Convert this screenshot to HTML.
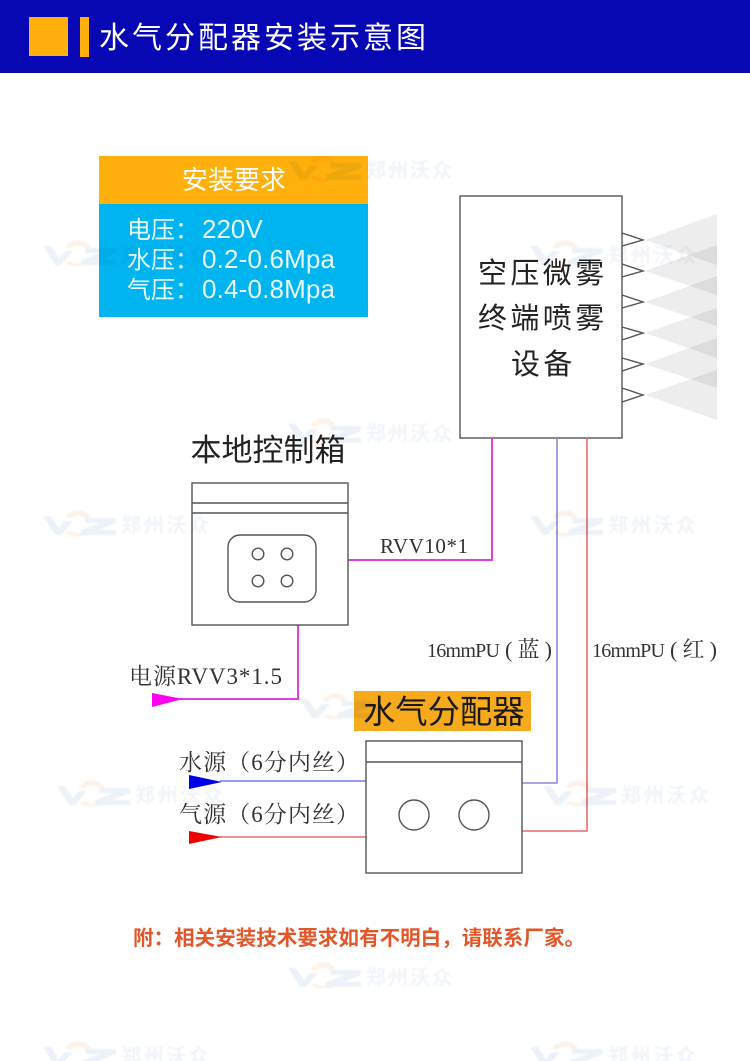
<!DOCTYPE html>
<html lang="zh">
<head>
<meta charset="utf-8">
<title>水气分配器安装示意图</title>
<style>
html,body{margin:0;padding:0;background:#fff;width:750px;height:1061px;overflow:hidden}
svg{display:block}
.s{font-family:"Liberation Sans","Noto Sans CJK SC",sans-serif}
.f{font-family:"Liberation Serif","Noto Serif CJK SC",serif;fill:#333}
.b{fill:none;stroke:#555;stroke-width:1.4}
.wm{font-family:"Liberation Sans","Noto Sans CJK SC",sans-serif;font-weight:700;font-size:20px;fill:#f0f4f9}
.wmg{mix-blend-mode:multiply;filter:blur(.8px)}
</style>
</head>
<body>
<svg width="750" height="1061" viewBox="0 0 750 1061" xmlns="http://www.w3.org/2000/svg">
<defs>
<g id="logo">
<path d="M0 -9 L8 -9 L16 3 L22 -4 L30 -4 L18 10 L12 10 Z" fill="#edf2f8"/>
<path d="M22 -8 A16 16 0 0 1 48 -8 L43 -6 A11 11 0 0 0 27 -6 Z" fill="#fdf2e9"/>
<path d="M27 6 A12 8 0 0 0 43 6 L49 8 A18 10 0 0 1 22 8 Z" fill="#fdf2e9"/>
<path d="M42 -7 L73 -7 L73 -2 L55 5 L73 5 L73 10 L38 10 L38 5 L57 -2 L42 -2 Z" fill="#edf2f8"/>
</g>
</defs>

<!-- header -->
<rect x="0" y="0" width="750" height="73" fill="#0707b4"/>
<rect x="29" y="17" width="39" height="39" fill="#ffb00c"/>
<rect x="80" y="17" width="9" height="40" fill="#ffb00c"/>
<text class="s" x="99" y="48" font-size="30" fill="#fff" letter-spacing="3">水气分配器安装示意图</text>

<!-- requirements -->
<rect x="99" y="156" width="269" height="48" fill="#ffb00c"/>
<rect x="99" y="204" width="269" height="113" fill="#00b4f0"/>
<text class="s" x="234" y="189" font-size="26" fill="#fff" text-anchor="middle">安装要求</text>
<g class="s" font-size="24" fill="#e8fbff">
<text x="127" y="238">电压：</text><text x="202" y="238" font-size="26">220V</text>
<text x="127" y="268">水压：</text><text x="202" y="268" font-size="26" textLength="133">0.2-0.6Mpa</text>
<text x="127" y="298">气压：</text><text x="202" y="298" font-size="26" textLength="133">0.4-0.8Mpa</text>
</g>

<!-- spray -->
<g fill="#000" fill-opacity="0.07">
<polygon points="645,240 717,214 717,265"/>
<polygon points="645,271 717,245 717,295"/>
<polygon points="645,302 717,276 717,326"/>
<polygon points="645,333 717,308 717,358"/>
<polygon points="645,364 717,338 717,388"/>
<polygon points="645,395 717,370 717,420"/>
</g>

<!-- terminal device -->
<rect class="b" x="460" y="196" width="162" height="242"/>
<g class="b" stroke-width="1.1">
<polyline points="622,233 643,240 622,246"/>
<polyline points="622,264 643,271 622,277"/>
<polyline points="622,295 643,302 622,308"/>
<polyline points="622,327 643,333 622,340"/>
<polyline points="622,358 643,364 622,371"/>
<polyline points="622,388 643,395 622,402"/>
</g>
<g class="s" font-size="29" fill="#222" letter-spacing="3.4">
<text x="478" y="283">空压微雾</text>
<text x="478" y="328">终端喷雾</text>
<text x="511" y="374">设备</text>
</g>

<!-- connectors -->
<polyline points="348,560 492,560 492,438" fill="none" stroke="#e23fe0" stroke-width="2"/>
<polyline points="298,625 298,699 180,699" fill="none" stroke="#e23fe0" stroke-width="2"/>
<polygon points="152,693 152,707 183,699" fill="#ff00f0"/>
<polyline points="557,438 557,783 522,783" fill="none" stroke="#8a8ae0" stroke-width="1.6"/>
<polyline points="587,438 587,831 522,831" fill="none" stroke="#e86a6a" stroke-width="1.6"/>
<line x1="220" y1="781" x2="366" y2="781" stroke="#7a7ae8" stroke-width="1.6"/>
<polygon points="189,775 189,789 222,782" fill="#0000e6"/>
<line x1="220" y1="837" x2="366" y2="837" stroke="#e86a6a" stroke-width="1.6"/>
<polygon points="189,831 189,844 222,837" fill="#f00000"/>

<!-- control box -->
<text class="s" x="268" y="461" font-size="31" fill="#222" text-anchor="middle">本地控制箱</text>
<rect class="b" x="192" y="483" width="156" height="142"/>
<line class="b" x1="192" y1="503" x2="348" y2="503"/>
<line class="b" x1="192" y1="513" x2="348" y2="513"/>
<rect class="b" x="228" y="535" width="88" height="67" rx="12" ry="12" stroke-width="1.1"/>
<g class="b" stroke-width="1.1">
<circle cx="258" cy="554" r="5.8"/><circle cx="287" cy="554" r="5.8"/>
<circle cx="258" cy="581" r="5.8"/><circle cx="287" cy="581" r="5.8"/>
</g>

<!-- labels -->
<text class="f" x="380" y="553" font-size="21" textLength="88">RVV10*1</text>
<text class="f" x="129" y="684" font-size="23" textLength="153">电源RVV3*1.5</text>
<text class="f" x="427" y="657" font-size="20" textLength="73">16mmPU</text>
<text class="f" x="505" y="657" font-size="22" textLength="47">(蓝)</text>
<text class="f" x="592" y="657" font-size="20" textLength="73">16mmPU</text>
<text class="f" x="670" y="657" font-size="22" textLength="47">(红)</text>
<text class="f" x="179" y="770" font-size="23" textLength="180">水源（6分内丝）</text>
<text class="f" x="179" y="822" font-size="23" textLength="180">气源（6分内丝）</text>

<!-- distributor -->
<rect x="354" y="691" width="177" height="40" fill="#f6aa1c"/>
<text class="s" x="363" y="723" font-size="32.3" fill="#1a1a1a">水气分配器</text>
<rect class="b" x="366" y="741" width="156" height="132"/>
<line class="b" x1="366" y1="762" x2="522" y2="762"/>
<g class="b" stroke-width="1.2">
<circle cx="414" cy="815" r="15"/><circle cx="474" cy="815" r="15"/>
</g>

<!-- footer -->
<text class="s" x="133" y="945" font-size="20.5" font-weight="700" fill="#e2562a" textLength="452">附：相关安装技术要求如有不明白，请联系厂家。</text>

<!-- watermarks overlay -->
<g class="wmg">
<use href="#logo" x="288" y="170"/><text class="wm" x="366" y="177" textLength="86">郑州沃众</text>
<use href="#logo" x="43" y="255"/><text class="wm" x="121" y="262" textLength="88">郑州沃众</text>
<use href="#logo" x="530" y="255"/><text class="wm" x="608" y="262" textLength="88">郑州沃众</text>
<use href="#logo" x="288" y="433"/><text class="wm" x="366" y="440" textLength="86">郑州沃众</text>
<use href="#logo" x="43" y="525"/><text class="wm" x="121" y="532" textLength="88">郑州沃众</text>
<use href="#logo" x="530" y="525"/><text class="wm" x="608" y="532" textLength="88">郑州沃众</text>
<use href="#logo" x="300" y="708"/>
<use href="#logo" x="57" y="795"/><text class="wm" x="135" y="802" textLength="88">郑州沃众</text>
<use href="#logo" x="543" y="795"/><text class="wm" x="621" y="802" textLength="88">郑州沃众</text>
<use href="#logo" x="288" y="977"/><text class="wm" x="366" y="984" textLength="86">郑州沃众</text>
<use href="#logo" x="43" y="1056"/><text class="wm" x="121" y="1063" textLength="88">郑州沃众</text>
<use href="#logo" x="530" y="1056"/><text class="wm" x="608" y="1063" textLength="88">郑州沃众</text>
</g>
</svg>
</body>
</html>
